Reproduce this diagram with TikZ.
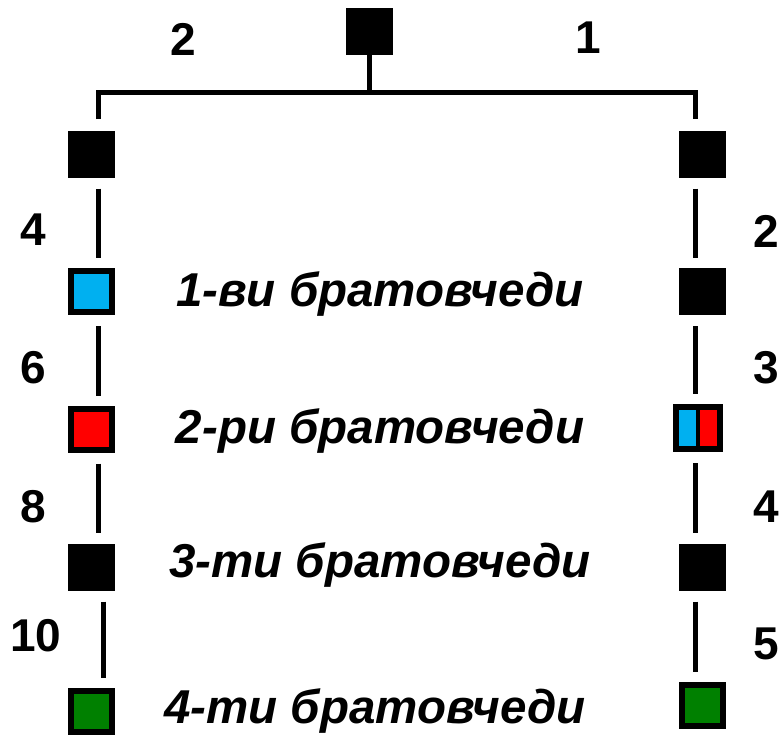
\documentclass[tikz,border=0pt]{standalone}
\usepackage{fontspec}
\setmainfont{Liberation Sans}
\definecolor{cousinblue}{RGB}{0,176,240}
\definecolor{cousingreen}{RGB}{0,128,0}

\tikzset{
	person/.style={rectangle, fill=black, minimum size=47pt, inner sep=0pt},
	marked/.style={rectangle, draw=black, line width=6pt, fill=#1, minimum size=41pt, inner sep=0pt},
	link/.style={line width=5pt},
	gap/.style={shorten <=11pt, shorten >=10pt},
	degree/.style={font=\bfseries\fontsize{46}{46}\selectfont, inner sep=1pt},
	cousin/.style={font=\bfseries\itshape\fontsize{47.5}{47.5}\selectfont}
}

\begin{document}
\begin{tikzpicture}[x=1pt,y=-1pt]
		\useasboundingbox (0,0) rectangle (783,734);
		
		%Nodes
		\node (root) at (369,31) [person]{};
		
		\node (left1) at (91.5,154) [person]{};
		\node (right1) at (702,154) [person]{};
		
		\node (left2) at (91.5,291.5) [marked=cousinblue]{};
		\node (right2) at (702,291.5) [person]{};
		
		\node (left3) at (91.5,429) [marked=red]{};
		\node (right3) at (698,428) [rectangle, draw=black, line width=6pt, minimum width=44pt, 
		minimum height=42pt, inner sep=0pt, path picture={
			\fill[cousinblue] (path picture bounding box.south west) rectangle (path picture bounding box.north);
			\fill[red] (path picture bounding box.south) rectangle (path picture bounding box.north east);
			\draw[line width=4pt] (path picture bounding box.south) -- (path picture bounding box.north);}]{};
		
		\node (left4) at (91.5,567) [person]{};
		\node (right4) at (702,567) [person]{};
		
		\node (left5) at (91.5,711) [marked=cousingreen]{};
		\node (right5) at (702,705) [marked=cousingreen]{};
		
		%Links
		\coordinate (branchL) at (98,92);
		\coordinate (branchR) at (695,92);
		
		\draw[link] (root.south) -- (root.south |- branchL);
		\draw[link] ([yshift=-27pt]branchL) -- (branchL) -- (branchR) -- ([yshift=-27pt]branchR);
		
		\draw[link, gap] (left1.south -| branchL) -- (left2.north -| branchL);
		\draw[link, gap] (left2.south -| branchL) -- (left3.north -| branchL);
		\draw[link, gap] (left3.south -| branchL) -- (left4.north -| branchL);
		\draw[link, gap] ([xshift=5pt]left4.south -| branchL) -- ([xshift=5pt]left5.north -| branchL);
		
		\draw[link, gap] (right1.south -| branchR) -- (right2.north -| branchR);
		\draw[link, gap] (right2.south -| branchR) -- (right3.north -| branchR);
		\draw[link, gap] (right3.south -| branchR) -- (right4.north -| branchR);
		\draw[link, gap] (right4.south -| branchR) -- (right5.north -| branchR);
		
		%Degrees
		\node (degL0) at (183,39) [degree]{2};
		\node (degR0) at (588,38) [degree]{1};
		
		\node (degL1) at (33,230) [degree]{4};
		\node (degL2) at (33,368) [degree]{6};
		\node (degL3) at (33,507) [degree]{8};
		\node (degL4) at (36,636) [degree]{10};
		
		\node (degR1) at (766,231) [degree]{2};
		\node (degR2) at (766,368) [degree]{3};
		\node (degR3) at (766,507) [degree]{4};
		\node (degR4) at (766,644) [degree]{5};
		
		%Cousins
		\node (first) at (380,294) [cousin]{1-ви братовчеди};
		\node (second) at (380,431) [cousin]{2-ри братовчеди};
		\node (third) at (380,565) [cousin]{3-ти братовчеди};
		\node (fourth) at (375,711) [cousin]{4-ти братовчеди};
\end{tikzpicture}
\end{document}
